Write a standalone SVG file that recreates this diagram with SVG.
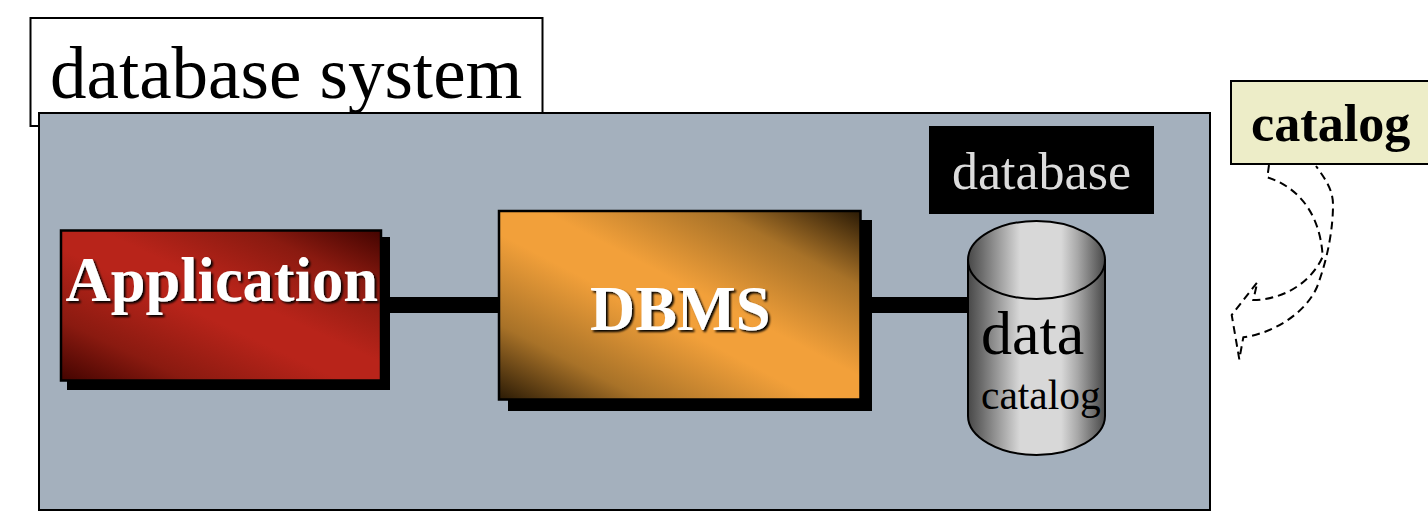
<svg xmlns="http://www.w3.org/2000/svg" width="1428" height="516" viewBox="0 0 1428 516">
<style>
text{font-family:"Liberation Serif","Times New Roman",serif}
.b{font-weight:bold}
.sh{fill:#fff;font-weight:bold;font-size:62.500px;filter:url(#ds)}
.ol{stroke:#000;stroke-width:2}
.cyl{fill:url(#cy);stroke:#000;stroke-width:2}
.link{fill:#000}
</style>
<defs>
<filter id="ds" x="-5%" y="-10%" width="110%" height="125%"><feDropShadow dx="2" dy="2" stdDeviation="1" flood-color="#000"/></filter>
<linearGradient id="red" x1="1" y1="0" x2="0" y2="1"><stop offset="0" stop-color="#430400"/><stop offset=".2" stop-color="#8a1a10"/><stop offset=".44" stop-color="#b8241a"/><stop offset=".56" stop-color="#b8241a"/><stop offset=".8" stop-color="#8a1a10"/><stop offset="1" stop-color="#430400"/></linearGradient>
<linearGradient id="org" x1="1" y1="0" x2="0" y2="1"><stop offset="0" stop-color="#2a1a05"/><stop offset=".2" stop-color="#a87228"/><stop offset=".44" stop-color="#f2a03a"/><stop offset=".56" stop-color="#f2a03a"/><stop offset=".8" stop-color="#a87228"/><stop offset="1" stop-color="#2a1a05"/></linearGradient>
<linearGradient id="cy" x1="0" y1="0" x2="1" y2="0"><stop offset="0" stop-color="#484848"/><stop offset=".1" stop-color="#6c6c6c"/><stop offset=".38" stop-color="#d8d8d8"/><stop offset=".68" stop-color="#d8d8d8"/><stop offset=".8" stop-color="#a8a8a8"/><stop offset="1" stop-color="#484848"/></linearGradient>
</defs>
<rect width="1428" height="516" fill="#fff"/>
<g id="title"><rect class="ol" x="30.500" y="18" width="512" height="108" fill="#fff"/><text x="50" y="98" font-size="73">database system</text></g>
<g id="system"><rect class="ol" x="39" y="113" width="1171" height="397" fill="#a4b0bd"/></g>
<g id="connectors"><rect class="link" x="385" y="297" width="118" height="16"/><rect class="link" x="868" y="297" width="101" height="16"/>
<path d="M1269 165L1267.300 177.300C1295 186 1320 210 1322.700 256.700C1310 285 1280 300 1253.300 300L1257.300 282.300L1231.700 315L1239.300 359.300L1243.300 337.300C1275 333 1306 312 1317 287C1328 258 1333 228 1333 205C1333 190 1326 180 1316 166" fill="none" stroke="#000" stroke-width="2" stroke-dasharray="8 5"/></g>
<g id="application"><rect x="67" y="237" width="323" height="153" fill="#000"/><rect x="61" y="230.500" width="320" height="150" fill="url(#red)" stroke="#000" stroke-width="2.500"/><text class="sh" x="65.500" y="301">Application</text></g>
<g id="dbms"><rect x="508" y="220" width="364" height="191" fill="#000"/><rect x="499" y="211" width="361.500" height="188.500" fill="url(#org)" stroke="#000" stroke-width="2.500"/><text class="sh" x="590" y="330">DBMS</text></g>
<g id="database"><rect x="929" y="126" width="225" height="88" fill="#000"/><text x="952" y="189" font-size="52" fill="#dcdcdc">database</text></g>
<g id="cylinder"><path class="cyl" d="M968 260V416C968 437 999 455 1036.500 455S1105 437 1105 416V260Z"/><ellipse class="cyl" cx="1036.500" cy="260" rx="68.500" ry="39"/><text x="981" y="354" font-size="62">data</text><text x="981" y="409" font-size="41.500">catalog</text></g>
<g id="catalog"><rect class="ol" x="1231" y="81" width="198" height="83" fill="#ededc8"/><text class="b" x="1251" y="141" font-size="52.200">catalog</text></g>
</svg>
